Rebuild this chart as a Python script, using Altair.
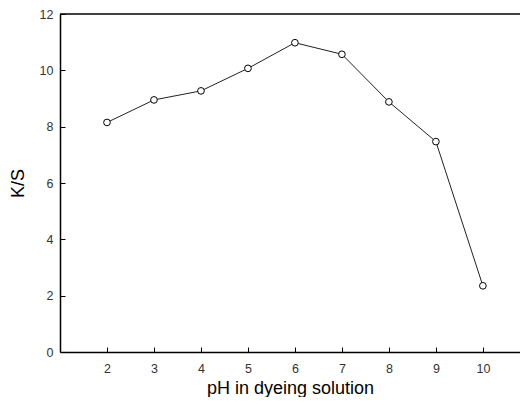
import altair as alt
import pandas as pd

ph = [2, 3, 4, 5, 6, 7, 8, 9, 10]
ks = [8.15, 8.95, 9.27, 10.07, 10.98, 10.57, 8.88, 7.47, 2.35]
y_ticks = [0, 2, 4, 6, 8, 10, 12]

df = pd.DataFrame({"pH": ph, "KS": ks})

x_min, x_max = 1, 10.79
xscale = alt.Scale(domain=[x_min, x_max], nice=False, zero=False)
yscale = alt.Scale(domain=[0, 12], nice=False)

font = "Liberation Sans"

xaxis = alt.Axis(
    values=ph, tickSize={"expr": "-5"}, labelPadding=15, labelFontSize=12.5,
    labelColor="#333333", labelFont=font, title="pH in dyeing solution",
    titleFontSize=18, titleFont=font, titleFontWeight="normal", titleColor="black",
    titleBaseline="alphabetic", titleY=41, grid=False, domainColor="black",
    tickColor="black", domainWidth=1.5,
)
yaxis = alt.Axis(
    values=y_ticks, tickSize={"expr": "-5"}, labelPadding=12,
    labelFontSize=12.5, labelColor="#333333", labelFont=font, title="K/S",
    titleFontSize=18, titleFont=font, titleFontWeight="normal", titleColor="black",
    titlePadding=12, grid=False, domainColor="black", tickColor="black", domainWidth=1.5,
)

line = alt.Chart(df).mark_line(color="#222222", strokeWidth=1).encode(
    x=alt.X("pH:Q", scale=xscale, axis=xaxis),
    y=alt.Y("KS:Q", scale=yscale, axis=yaxis),
)
pts = alt.Chart(df).mark_point(
    shape="circle", filled=True, fill="white", stroke="black", strokeWidth=1, size=45, opacity=1
).encode(x="pH:Q", y="KS:Q")

top = alt.Chart(pd.DataFrame({"x": [x_min], "x2": [x_max], "y": [12]})).mark_rule(
    color="black", strokeWidth=1.5
).encode(x="x:Q", x2="x2:Q", y="y:Q")

chart = alt.layer(top, line, pts).properties(
    width=460, height=338,
    background="white",
    autosize=alt.AutoSizeParams(type="none"),
    padding={"left": 52, "top": 6, "right": 0, "bottom": 45},
).configure_view(stroke=None, strokeWidth=0)

chart.save("out.html", embed_options={"renderer": "svg", "actions": False})
